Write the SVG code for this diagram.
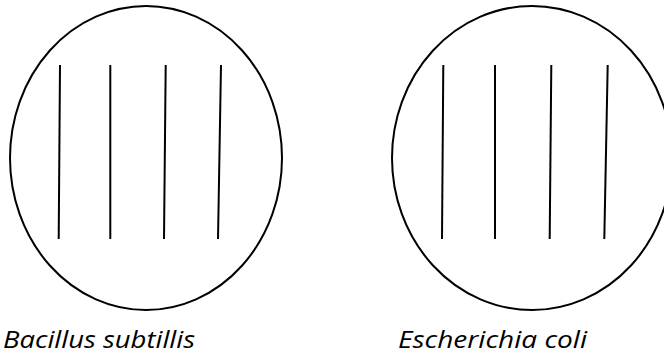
<svg xmlns="http://www.w3.org/2000/svg" width="664" height="356" viewBox="0 0 664 356">
<style>
.plate{fill:none;stroke:#000;stroke-width:2}
.streak{stroke:#000;stroke-width:2;stroke-linecap:butt}
.lbl{font-family:"Open Sans","Liberation Sans",sans-serif;font-style:italic;font-size:24px;fill:#000}
</style>
<rect width="664" height="356" fill="#fff"/>
<g id="plate-bacillus">
<ellipse class="plate" cx="146" cy="158" rx="136" ry="152"/>
<line class="streak" x1="60" y1="65" x2="58.7" y2="239"/>
<line class="streak" x1="110.3" y1="65" x2="110.3" y2="239"/>
<line class="streak" x1="165.7" y1="65" x2="164" y2="239"/>
<line class="streak" x1="221" y1="65" x2="218" y2="239"/>
<text class="lbl" x="3" y="348" textLength="192" lengthAdjust="spacingAndGlyphs">Bacillus subtillis</text>
</g>
<g id="plate-ecoli">
<ellipse class="plate" cx="532" cy="158" rx="140" ry="152"/>
<line class="streak" x1="443.3" y1="65" x2="442" y2="239"/>
<line class="streak" x1="495" y1="65" x2="495" y2="239"/>
<line class="streak" x1="551.3" y1="65" x2="549.7" y2="239"/>
<line class="streak" x1="607.7" y1="65" x2="604.3" y2="239"/>
<text class="lbl" x="398" y="348" textLength="189" lengthAdjust="spacingAndGlyphs">Escherichia coli</text>
</g>
<g id="connectors"/>
</svg>
